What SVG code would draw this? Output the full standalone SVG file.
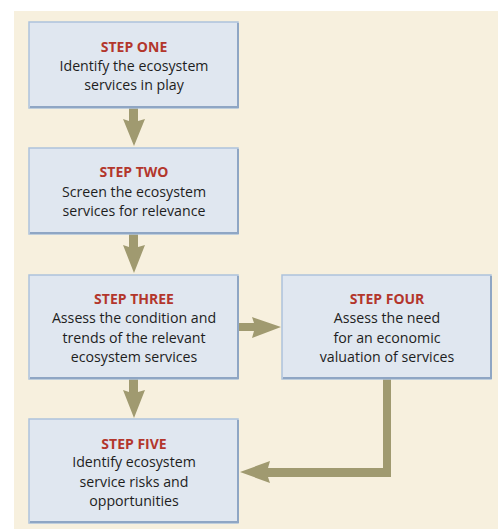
<svg xmlns="http://www.w3.org/2000/svg" width="498" height="529" viewBox="0 0 498 529">
<defs>
<style>
.box{fill:#e0e7f0;stroke:#adc2dc;stroke-width:1.5}
.shadow{fill:none;stroke:#8fa6c4;stroke-width:2}
.title{font-family:"Open Sans","Noto Sans",sans-serif;font-weight:bold;font-size:14px;fill:#b3362c;text-anchor:middle}
.body{font-family:"Open Sans","Noto Sans",sans-serif;font-size:14.2px;fill:#1e1e1e;text-anchor:middle}
.arrow{fill:#a09a70}
</style>
</defs>
<rect x="0" y="0" width="498" height="529" fill="#ffffff"/>
<rect x="14" y="11" width="484" height="518" fill="#f7f0de"/>

<g id="connectors">
  <polygon class="arrow" points="129,108 138,108 138,121 145,119 134,146 123,119 129,121"/>
  <polygon class="arrow" points="129,234 138,234 138,247 145,245 134,273 123,245 129,247"/>
  <polygon class="arrow" points="129,379 138,379 138,392 145,390 134,418 123,390 129,392"/>
  <polygon class="arrow" points="239,323 254,323 252,317 281,327 252,338 254,331 239,331"/>
  <polygon class="arrow" points="383,379 391,379 391,477 268,477 270,483 240,472 270,461 268,468 383,468"/>
</g>

<g id="step1">
  <rect class="box" x="29" y="22" width="209" height="86"/>
  <path class="shadow" d="M30,107 H238 V23"/>
  <text class="title" x="134" y="52">STEP ONE</text>
  <text class="body" x="134" y="71">Identify the ecosystem</text>
  <text class="body" x="134" y="90">services in play</text>
</g>

<g id="step2">
  <rect class="box" x="29" y="148" width="209" height="86"/>
  <path class="shadow" d="M30,233 H238 V149"/>
  <text class="title" x="134" y="177">STEP TWO</text>
  <text class="body" x="134" y="197">Screen the ecosystem</text>
  <text class="body" x="134" y="216">services for relevance</text>
</g>

<g id="step3">
  <rect class="box" x="29" y="275" width="209" height="104"/>
  <path class="shadow" d="M30,378 H238 V276"/>
  <text class="title" x="134" y="304">STEP THREE</text>
  <text class="body" x="134" y="323">Assess the condition and</text>
  <text class="body" x="134" y="343">trends of the relevant</text>
  <text class="body" x="134" y="362">ecosystem services</text>
</g>

<g id="step4">
  <rect class="box" x="282" y="275" width="209" height="104"/>
  <path class="shadow" d="M283,378 H491 V276"/>
  <text class="title" x="387" y="304">STEP FOUR</text>
  <text class="body" x="387" y="323">Assess the need</text>
  <text class="body" x="387" y="343">for an economic</text>
  <text class="body" x="387" y="362">valuation of services</text>
</g>

<g id="step5">
  <rect class="box" x="29" y="419" width="209" height="104"/>
  <path class="shadow" d="M30,522 H238 V420"/>
  <text class="title" x="134" y="449">STEP FIVE</text>
  <text class="body" x="134" y="467">Identify ecosystem</text>
  <text class="body" x="134" y="487">service risks and</text>
  <text class="body" x="134" y="506">opportunities</text>
</g>
</svg>
